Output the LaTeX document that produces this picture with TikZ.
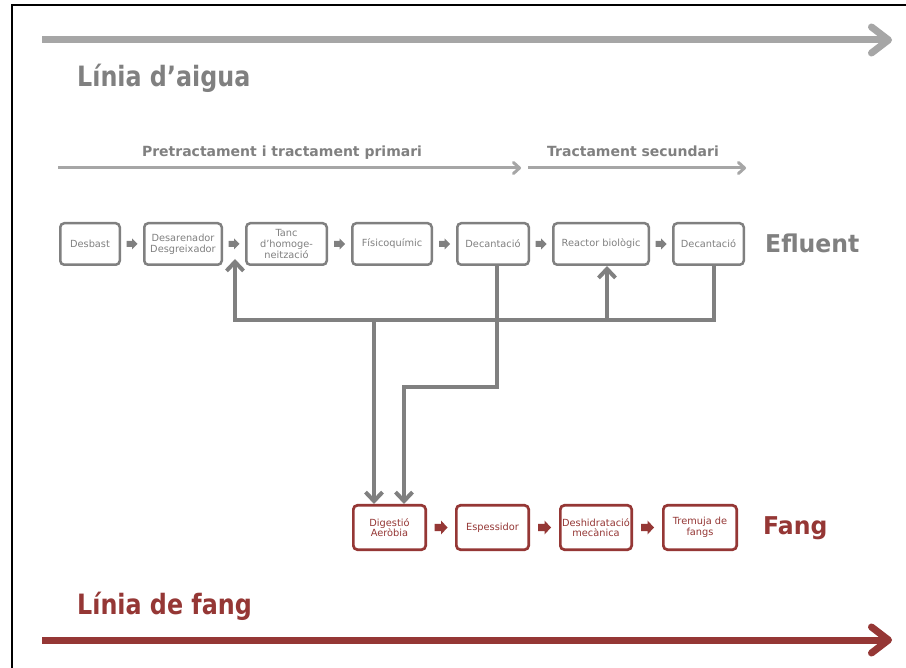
\documentclass[tikz,border=0pt]{standalone}
\usepackage{fontspec}
\setmainfont{DejaVu Sans}
\newfontfamily\titlefont[FakeStretch=0.85]{DejaVu Sans}
\newfontfamily\bigfont[FakeStretch=0.96]{DejaVu Sans}
\usetikzlibrary{arrows.meta,calc}
\definecolor{grayline}{HTML}{A6A6A6}
\definecolor{graybox}{HTML}{808080}
\definecolor{redbox}{HTML}{953735}
% block arrow: colour, centre, width, height, half shaft
\newcommand\blockarrow[5]{%
  \fill[#1] (#2) ++({-#3/2},{-#5}) -- ++({#3/2},0) -- ++(0,{-(#4/2-#5)})
    -- ++({#3/2},{#4/2}) -- ++({-#3/2},{#4/2}) -- ++(0,{-(#4/2-#5)})
    -- ++({-#3/2},0) -- cycle;}
\begin{document}
\begin{tikzpicture}[x=1pt,y=-1pt,
  gbox/.style={draw=graybox, line width=2.5pt, rounded corners=4pt, inner sep=0pt,
    minimum height=41.5pt, text=graybox, align=center,
    font=\fontsize{9.8}{10.6}\selectfont},
  rbox/.style={draw=redbox, line width=2.7pt, rounded corners=4pt, inner sep=0pt,
    minimum height=44.3pt, text=redbox, align=center,
    font=\fontsize{9.8}{10.6}\selectfont},
  conn/.style={draw=graybox, line width=4pt},
  conntip/.style={-{Straight Barb[length=9pt,width=17pt]}},
  secline/.style={draw=grayline, line width=3pt, -{Straight Barb[length=6pt,width=11pt,round]}},
  bigarrow/.style={line width=7pt, -{Straight Barb[length=17pt,width=26pt,round]}},
  sectitle/.style={text=graybox, font=\bfseries\fontsize{14}{16}\selectfont, anchor=base, inner sep=0pt},
  linetitle/.style={font=\titlefont\bfseries\fontsize{28}{30}\selectfont, anchor=base west, inner sep=0pt},
  sidetitle/.style={font=\bigfont\bfseries\fontsize{24.5}{26}\selectfont, anchor=base west, inner sep=0pt}
]
\useasboundingbox (0,0) rectangle (906,668);
\fill[white] (0,0) rectangle (906,668);
% frame
\draw[black, line width=1.8pt] (12,668) -- (12,5) -- (906,5);

% big arrows
\coordinate (wa1) at (42,40);
\coordinate (wa2) at (892,40);
\draw[bigarrow, draw=grayline] (wa1) -- (wa2);
\coordinate (fa1) at (42,640);
\coordinate (fa2) at (892,640);
\draw[bigarrow, draw=redbox] (fa1) -- (fa2);

% line titles
\node[linetitle, text=graybox] (laigua) at (77,87) {Línia d’aigua};
\node[linetitle, text=redbox] (lfang) at (77,614) {Línia de fang};

% section titles and lines
\node[sectitle] (pret) at (282,157) {Pretractament i tractament primari};
\node[sectitle] (secu) at (633,157) {Tractament secundari};
\coordinate (s1a) at (58,168);
\coordinate (s1b) at (521,168);
\coordinate (s2a) at (528,168);
\coordinate (s2b) at (746,168);
\draw[secline] (s1a) -- (s1b);
\draw[secline] (s2a) -- (s2b);

% top row
\node[gbox, minimum width=59.5pt] (desbast) at (90,244) {Desbast};
\node[gbox, minimum width=77.5pt] (desar) at (183,244) {Desarenador\\Desgreixador};
\node[gbox, minimum width=80.5pt] (tanc) at (286.5,244) {Tanc\\d’homoge-\\neització};
\node[gbox, minimum width=79.5pt] (fisico) at (392,244) {Físicoquímic};
\node[gbox, minimum width=71.5pt] (dec1) at (493,244) {Decantació};
\node[gbox, minimum width=95.5pt] (reactor) at (601,244) {Reactor biològic};
\node[gbox, minimum width=70.5pt] (dec2) at (708.5,244) {Decantació};
\node[sidetitle, text=graybox] (efluent) at (765,253) {Efluent};

\blockarrow{graybox}{$(desbast.east)!0.5!(desar.west)$}{11}{11}{3}
\blockarrow{graybox}{$(desar.east)!0.5!(tanc.west)$}{11}{11}{3}
\blockarrow{graybox}{$(tanc.east)!0.5!(fisico.west)$}{11}{11}{3}
\blockarrow{graybox}{$(fisico.east)!0.5!(dec1.west)$}{11}{11}{3}
\blockarrow{graybox}{$(dec1.east)!0.5!(reactor.west)$}{11}{11}{3}
\blockarrow{graybox}{$(reactor.east)!0.5!(dec2.west)$}{11}{11}{3}

% bottom row
\node[rbox, minimum width=72.3pt] (dig) at (389.5,527.5) {Digestió\\Aeròbia};
\node[rbox, minimum width=72.3pt] (esp) at (492.5,527.5) {Espessidor};
\node[rbox, minimum width=71.3pt] (desh) at (596,527.5) {Deshidratació\\mecànica};
\node[rbox, minimum width=73.3pt] (trem) at (700,527.5) {Tremuja de\\fangs};
\node[sidetitle, text=redbox] (fang) at (763,535) {Fang};

\blockarrow{redbox}{$(dig.east)!0.5!(esp.west)$}{13}{14}{3.5}
\blockarrow{redbox}{$(esp.east)!0.5!(desh.west)$}{13}{14}{3.5}
\blockarrow{redbox}{$(desh.east)!0.5!(trem.west)$}{13}{14}{3.5}

% connectors
\coordinate (jL) at (235,320);
\coordinate (jR) at (714,320);
\coordinate (tL) at (235,259);
\coordinate (jRe) at (607,320);
\coordinate (jD) at (374,320);
\coordinate (k1) at (497,387);
\coordinate (k2) at (404,387);
\draw[conn, conntip] (dec2.south -| jR) -- (jR) -- (jL) -- (tL);
\draw[conn, conntip] (jRe) -- (jRe |- reactor.south);
\draw[conn, conntip] (jD) -- (jD |- dig.north);
\draw[conn, conntip] (dec1.south -| k1) -- (k1) -- (k2) -- (k2 |- dig.north);
\end{tikzpicture}
\end{document}
